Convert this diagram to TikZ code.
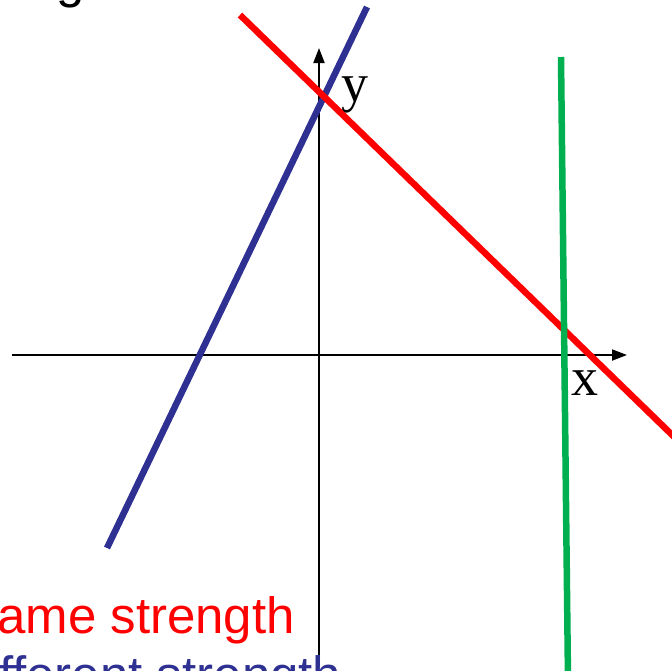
\documentclass[tikz,border=0pt]{standalone}
\usepackage{fontspec}
\setmainfont{Liberation Sans}
\newfontfamily\labelfont{Liberation Serif}
\usetikzlibrary{arrows.meta}
\definecolor{slidered}{RGB}{255,0,0}
\definecolor{slideblue}{RGB}{46,49,146}
\definecolor{slidegreen}{RGB}{0,176,80}
\tikzset{
  axisarr/.style  = {-{Triangle[length=15pt, width=11pt]}, line width=2pt, black},
  forceline/.style = {line width=6.5pt},
  axislabel/.style = {inner sep=0pt, font=\labelfont\fontsize{54}{60}\selectfont},
  slidetext/.style = {inner sep=0pt, anchor=base west, font=\fontsize{51}{59}\selectfont},
}
\begin{document}
\begin{tikzpicture}[x=1pt, y=-1pt]
\useasboundingbox (0,0) rectangle (672,670);
\clip (0,0) rectangle (672,670);

%% ---- axes ----
\coordinate (xstart) at (12,355);
\coordinate (xend)   at (627,355);
\coordinate (ystart) at (319,662);
\coordinate (yend)   at (319,48);
\draw[axisarr] (xstart) -- (xend);
\draw[axisarr] (ystart) -- (yend);
\node[axislabel] (ylab) at (355,95) {y};
\node[axislabel] (xlab) at (585,383) {x};

%% ---- lines ----
\coordinate (blueA)  at (107,548);
\coordinate (blueB)  at (367,7);
\coordinate (redA)   at (240,15);
\coordinate (redB)   at (700,462);
\coordinate (greenA) at (561,57);
\coordinate (greenB) at (568,680);
\draw[forceline, slideblue]  (blueA)  -- (blueB);
\draw[forceline, slidered]   (redA)   -- (redB);
\draw[forceline, slidegreen] (greenA) -- (greenB);

%% ---- text (cut by the frame) ----
\node[slidetext] (title)  at (56,-3)   {g};
\node[slidetext, text=slidered]  (same) at (-3,633) {ame strength};
\node[slidetext, text=slideblue] (diff) at (-1,692) {fferent strength};

\end{tikzpicture}
\end{document}
